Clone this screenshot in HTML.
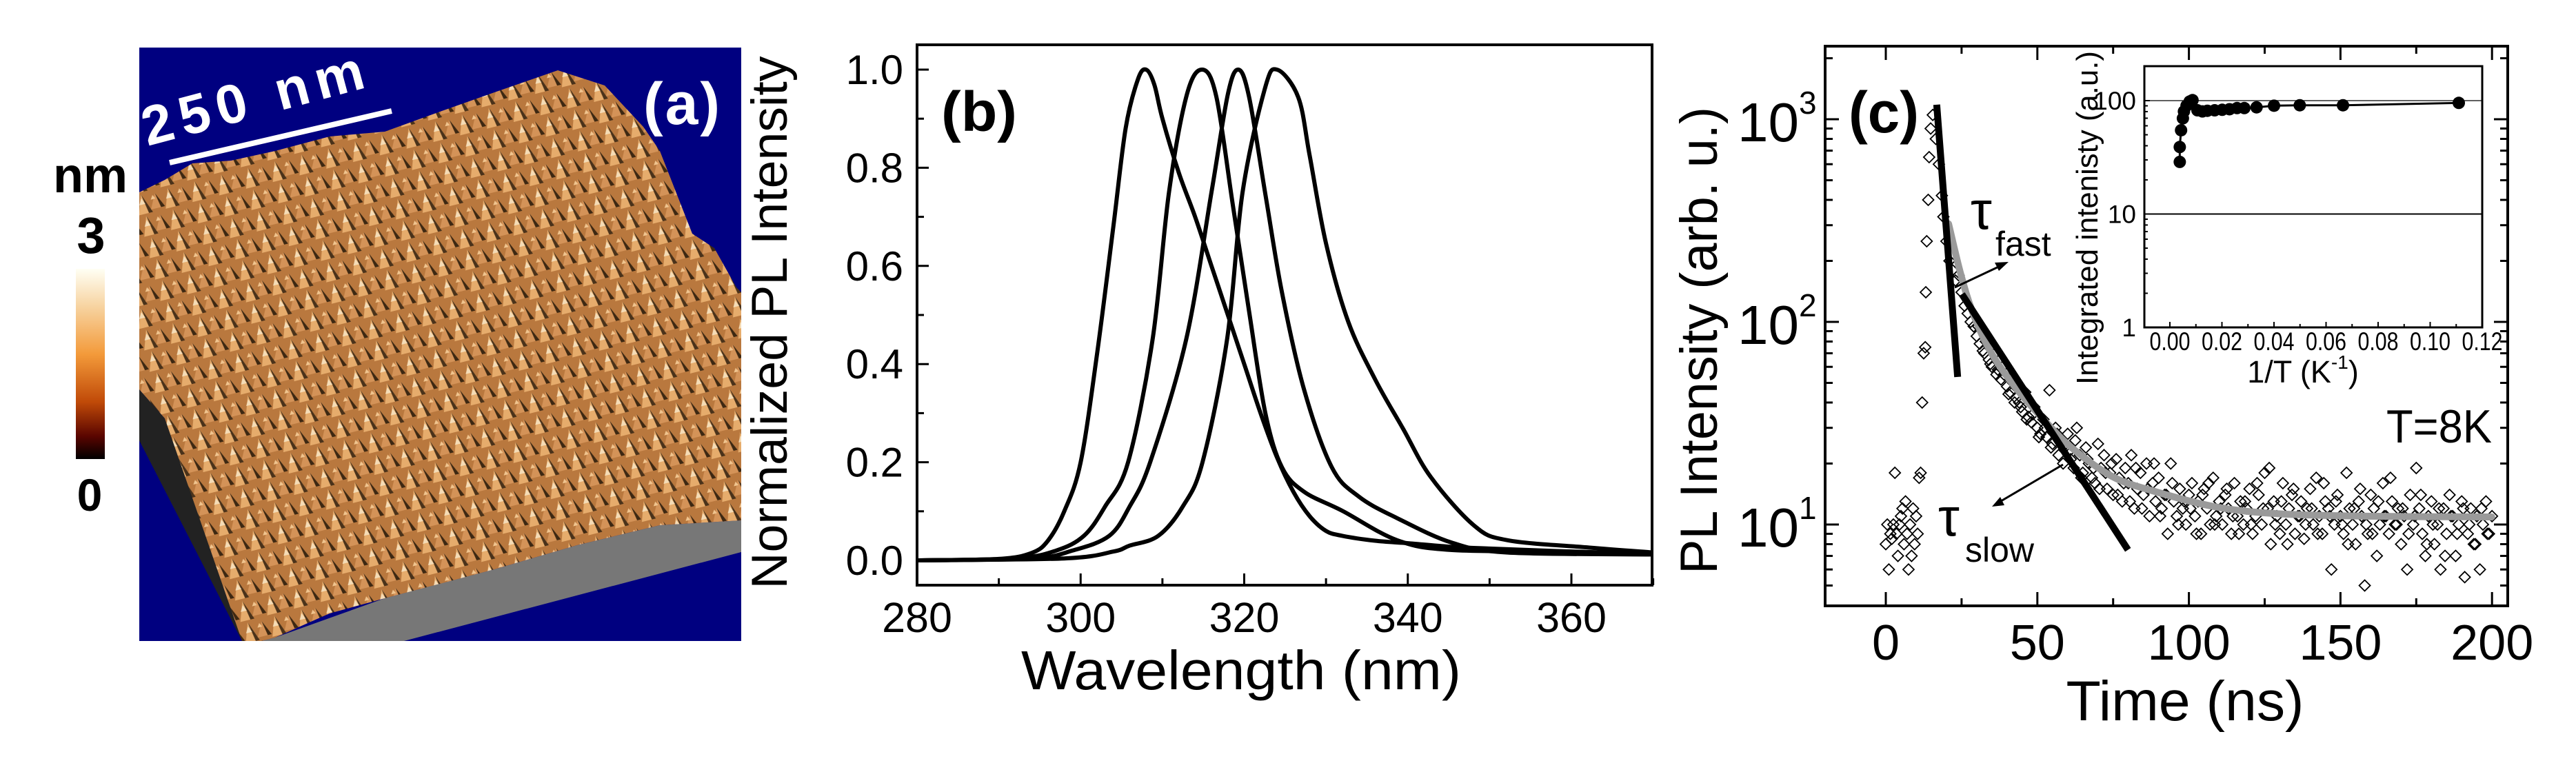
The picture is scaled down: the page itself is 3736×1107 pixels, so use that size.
<!DOCTYPE html>
<html><head><meta charset="utf-8"><style>
html,body{margin:0;padding:0;background:#fff;}
svg{display:block;}
text{font-family:"Liberation Sans",Arial,sans-serif;}
</style></head><body>
<svg id="fig" width="3736" height="1107" viewBox="0 0 3736 1107" xmlns="http://www.w3.org/2000/svg">
<defs>
<linearGradient id="cbar" x1="0" y1="0" x2="0" y2="1">
<stop offset="0" stop-color="#fffff4"/><stop offset="0.2" stop-color="#f7d3a0"/><stop offset="0.45" stop-color="#f39a3a"/><stop offset="0.7" stop-color="#c04a08"/><stop offset="0.88" stop-color="#5a0500"/><stop offset="1" stop-color="#000"/>
</linearGradient>
<pattern id="bumps" width="40" height="32" patternUnits="userSpaceOnUse" patternTransform="rotate(-14)">
<rect width="40" height="32" fill="#b9783e"/>
<polygon points="0,32 10,3 21,32" fill="#e6ac6c"/>
<polygon points="10,3 21,32 15,32" fill="#4a321a"/>
<polygon points="19,28 30,6 40,28" fill="#d49358"/>
<polygon points="30,6 40,28 34,28" fill="#3d2812"/>
<polygon points="4,18 9,9 13,18" fill="#f5dcb6"/>
<polygon points="22,14 26,8 29,14" fill="#f0c48e"/>
</pattern>
</defs>
<g id="panelA">
<rect x="202" y="69" width="873" height="861" fill="#000080"/>
<polygon points="379,930 586,930 1075,801 1075,755 957,762 837,791 717,826 558,868 399,925" fill="#777"/>
<polygon points="202,565 202,639 351,930 381,930 239,607" fill="#222"/>
<polygon points="202,279 239,261 279,237 335,233 399,219 478,198 558,191 638,162 717,134 809,102 877,124 933,184 957,219 1004,339 1036,360 1068,417 1075,424 1075,755 957,762 837,791 717,826 638,847 558,868 478,890 399,925 379,930 351,930 239,607 202,565" fill="url(#bumps)"/>
<line x1="246" y1="236" x2="568" y2="161" stroke="#fff" stroke-width="8"/>
<text x="214" y="212" transform="rotate(-15 214 212)" font-size="80" font-weight="bold" fill="#fff" textLength="330">250 nm</text>
<text x="933" y="180" font-size="86" font-weight="bold" fill="#fff" textLength="111">(a)</text>
<rect x="110" y="390" width="42" height="276" fill="url(#cbar)"/>
<text x="131" y="279" font-size="72" font-weight="bold" text-anchor="middle">nm</text>
<text x="132" y="367" font-size="74" font-weight="bold" text-anchor="middle">3</text>
<text x="130" y="741" font-size="66" font-weight="bold" text-anchor="middle">0</text>
</g>
<g id="panelB"></g>
<g id="panelC"></g>
</svg>
<script>
// ---------- Panel (b) data ----------
const specWl1 = [280,290,294,296,298,300,302,304,305.5,307,308,309,310,312,314,316,318,320,322,324,326,328,330,332,336,340,345,350,360,370];
const specI1  = [0,0.003,0.015,0.04,0.1,0.2,0.42,0.68,0.88,0.98,1.0,0.97,0.9,0.79,0.7,0.6,0.5,0.4,0.3,0.21,0.14,0.09,0.06,0.05,0.04,0.035,0.028,0.024,0.018,0.012];
const specWl2 = [280,292,297,300.4,303,305.8,308.8,310.8,313,314.9,316.6,318.6,320.6,322.6,324.6,327.3,332,338.7,345.4,360,370];
const specI2  = [0,0.004,0.02,0.05,0.11,0.2,0.45,0.75,0.95,1.0,0.944,0.725,0.507,0.299,0.19,0.14,0.101,0.041,0.021,0.018,0.012];
const specWl3 = [280,294,299,303.5,306,308.5,312.9,316,318,319.3,320.6,322.6,324.6,327.3,330.7,334,338.7,345.4,352.2,370];
const specI3  = [0,0.004,0.02,0.05,0.11,0.2,0.45,0.75,0.95,1.0,0.944,0.745,0.547,0.349,0.19,0.13,0.086,0.036,0.016,0.012];
const specWl4 = [280,298,304,306,309.5,312.5,314.9,317.9,319.8,322.5,324,326.6,328,330,332.7,336,339.4,342.8,348.1,352.2,362.2,370];
const specI4  = [0,0.004,0.018,0.03,0.05,0.11,0.2,0.45,0.75,0.96,1.0,0.944,0.825,0.646,0.487,0.369,0.269,0.17,0.071,0.041,0.026,0.016];
const bXTicks = [280,300,320,340,360];
const bYTicks = [0,0.2,0.4,0.6,0.8,1.0];
const bYTickLabels = ["0.0","0.2","0.4","0.6","0.8","1.0"];

// ---------- Panel (c) data ----------
const decayT = [0,0.5,1,1.5,2,2.5,3,3.5,4,4.5,5,5.5,6,6.5,7,7.5,8,8.5,9,9.5,10,10.5,11,11.5,12,12.5,13,13.2,13.5,14,14.3,14.8,15.5,16.5,17.5,18.5,19,20,21,22,23,24,25,26,27,28,29,30,31,32,33,34,35,36,37,38,39,40,41,42,43,44,45,46,47,48,49,50,51,52,53,54,55,56,57,58,59,60,61,62,63,64,65,66,67,68,69,70,71,72,73,74,75,76,77,78,79,80,81,82,83,84,85,86,87,88,89,90,91,92,93,94,95,96,97,98,99,100,101,102,103,104,105,106,107,108,109,110,111,112,113,114,115,116,117,118,119,120,121,122,123,124,125,126,127,128,129,130,131,132,133,134,135,136,137,138,139,140,141,142,143,144,145,146,147,148,149,150,151,152,153,154,155,156,157,158,159,160,161,162,163,164,165,166,167,168,169,170,171,172,173,174,175,176,177,178,179,180,181,182,183,184,185,186,187,188,189,190,191,192,193,194,195,196,197,198,199,200];
const decayI = [8,10,6,9,8.5,10,18,9,7,10,11,12,8,13,9,6,10,7,12,8,11,9,17,18,40,70,75,140,250,400,650,900,1050,800,600,420,330,250,200,180,160,170,140,120,110,100,95,85,78,72,80,65,60,70,58,52,55,48,45,50,42,40,36,45,34,32,38,30,28,33,27,46,25,30,22,26,24,28,21,19,30,22,18,24,20,17,16,25,19,22,15,18,14,21,17,13,19,16,22,12,15,18,14,20,11,16,13,17,12,14,9,20,13,11,15,12,10,14,16,11,13,9,15,12,10,17,11,13,10,14,12,9,16,11,13,10,12,15,9,11,14,10,18,12,8,13,11,9,16,10,12,14,9,11,13,8.5,12,15,10,17,11,9,13,12,6,10,14,11,9,18,12,10,8,13,11,5,9,14,12,7,10,16,11,9,13,10,12,8,11,6,14,10,19,12,9,7,11,13,8,10,6,12,9,14,11,7,10,13,5.5,9,12,8,11,6,10,13,9,11];
const decayT2 = [30.5,32.5,34.5,36.5,38.5,40.5,42.5,44.5,46.5,48.5,50.5,52.5,54.5,56.5,58.5,60.5,62.5,64.5,66.5,68.5,70.5,72.5,74.5,76.5,78.5,80.5,82.5,84.5,86.5,88.5,90.5,92.5,94.5,96.5,98.5,100.5,102.5,104.5,106.5,108.5,110.5,112.5,114.5,116.5,118.5,120.5,122.5,124.5,126.5,128.5,130.5,132.5,134.5,136.5,138.5,140.5,142.5,144.5,146.5,148.5,150.5,152.5,154.5,156.5,158.5,160.5,162.5,164.5,166.5,168.5,170.5,172.5,174.5,176.5,178.5,180.5,182.5,184.5,186.5,188.5,190.5,192.5,194.5,196.5,198.5];
const decayI2 = [95,70,62,55,60,44,40,38,33,35,27,30,24,28,20,23,26,17,21,19,15,18,20,14,16,13,19,12,15,20,11,14,16,10,13,12,9,14,16,10,12,15,11,9,13,10,16,12,19,10,13,8,15,11,10,12,9,16,11,13,10,8,12,15,10,9,13,11,17,10,12,9,11,14,8,10,12,7,11,9,12,10,8,12,9];
const fitT = [20.7,24.6,28.5,34.3,42.0,51.7,61.4,74.9,88.5,107.9,127.3,156.3,199.9];
const fitI = [305,175,113,72.4,49.1,33.4,23.9,17.2,14.6,12.3,11.35,11.0,10.9];
const fastT = [16.8,23.7];
const fastI = [1180,53.5];
const slowT = [25.1,79.9];
const slowI = [137,7.5];
const cXTicks = [0,50,100,150,200];
const cYDecades = [1,2,3];
// inset
const insetInvT = [0.0038,0.0038,0.0043,0.0050,0.0054,0.0064,0.0076,0.0087,0.0106,0.0125,0.0144,0.0172,0.0201,0.0229,0.0258,0.0286,0.0333,0.04,0.0499,0.0665,0.111];
const insetI = [28.8,39,54.8,69.8,80.3,90.2,98.2,101,82.2,80.3,81.4,82.2,83,84,86,86,87.3,90.2,91,91,95.5];
const insetXTicks = [0,0.02,0.04,0.06,0.08,0.10,0.12];
const insetXTickLabels = ["0.00","0.02","0.04","0.06","0.08","0.10","0.12"];
const insetYTicks = [1,10,100];

const NS = "http://www.w3.org/2000/svg";
function mk(tag, attrs, parent){
  const el = document.createElementNS(NS, tag);
  for (const k in attrs) el.setAttribute(k, attrs[k]);
  parent.appendChild(el);
  return el;
}
function smoothPath(pts){
  let d = "M" + pts[0][0].toFixed(1) + "," + pts[0][1].toFixed(1);
  for (let i=0;i<pts.length-1;i++){
    const p0 = pts[Math.max(0,i-1)], p1 = pts[i], p2 = pts[i+1], p3 = pts[Math.min(pts.length-1,i+2)];
    const c1x = p1[0] + (p2[0]-p0[0])/6, c1y = p1[1] + (p2[1]-p0[1])/6;
    const c2x = p2[0] - (p3[0]-p1[0])/6, c2y = p2[1] - (p3[1]-p1[1])/6;
    d += " C" + c1x.toFixed(1)+","+c1y.toFixed(1)+" "+c2x.toFixed(1)+","+c2y.toFixed(1)+" "+p2[0].toFixed(1)+","+p2[1].toFixed(1);
  }
  return d;
}

// ---------- Panel (b) ----------
(function(){
  const g = document.getElementById('panelB');
  const L=1330,R=2396,T=65,B=849;
  const xB = w => L + (w-280)*11.8625;
  const yB = v => 813 - v*712;
  const clip = mk('clipPath',{id:'clipB'},g);
  mk('rect',{x:L,y:T,width:R-L,height:B-T},clip);
  const series = [[specWl1,specI1],[specWl2,specI2],[specWl3,specI3],[specWl4,specI4]];
  series.forEach((s,k)=>{
    const pts = s[0].map((w,i)=>[xB(w),yB(s[1][i])]);
    const p = mk('path',{d:smoothPath(pts),fill:'none',stroke:'#000','stroke-width':6,'clip-path':'url(#clipB)','stroke-linejoin':'round'},g);
    
    
  });
  const box = mk('rect',{x:L,y:T,width:R-L,height:B-T,fill:'none',stroke:'#000','stroke-width':4},g);
  
  
  for (let w=280; w<=370; w+=10){
    const major = bXTicks.indexOf(w)>=0;
    const t = mk('line',{x1:xB(w),x2:xB(w),y1:B,y2:B-(major?17:10),stroke:'#000','stroke-width':3},g);
    
    
  }
  bXTicks.forEach(w=>{
    const t = mk('text',{x:xB(w),y:917,'font-size':61,'text-anchor':'middle'},g);
    t.textContent = String(w);
    
    
  });
  for (let v=0; v<=1.0001; v+=0.1){
    const major = Math.round(v*10)%2===0;
    const t = mk('line',{x1:L,x2:L+(major?17:10),y1:yB(v),y2:yB(v),stroke:'#000','stroke-width':3},g);
    
    
  }
  bYTicks.forEach((v,i)=>{
    const t = mk('text',{x:1310,y:yB(v)+21,'font-size':60,'text-anchor':'end'},g);
    t.textContent = bYTickLabels[i];
    
    
  });
  const xt = mk('text',{x:1800,y:1000,'font-size':80,'text-anchor':'middle',textLength:638,lengthAdjust:'spacingAndGlyphs'},g);
  xt.textContent = 'Wavelength (nm)';
  
  
  const yt = mk('text',{x:0,y:0,'font-size':73,'text-anchor':'middle',textLength:773,lengthAdjust:'spacingAndGlyphs',transform:'translate(1141,468) rotate(-90)'},g);
  yt.textContent = 'Normalized PL Intensity';
  
  
  const lb = mk('text',{x:1365,y:190,'font-size':82,'font-weight':'bold',textLength:110,lengthAdjust:'spacingAndGlyphs'},g);
  lb.textContent = '(b)';
  
  
})();

// ---------- Panel (c) ----------
(function(){
  const g = document.getElementById('panelC');
  const L=2647,R=3637,T=67,B=879;
  const xC = t => 2735 + t*4.396;
  const yC = v => 761 - (Math.log10(v)-1)*294;
  const clip = mk('clipPath',{id:'clipC'},g);
  mk('rect',{x:L,y:T,width:R-L,height:B-T},clip);
  function diamond(t,v){
    const x=xC(t), y=yC(v), s=8;
    const p = mk('polygon',{points:`${x},${y-s} ${x+s},${y} ${x},${y+s} ${x-s},${y}`,fill:'none',stroke:'#000','stroke-width':1.8,'clip-path':'url(#clipC)'},g);
    
    
  }
  decayT.forEach((t,i)=>diamond(t,decayI[i]));
  decayT2.forEach((t,i)=>diamond(t,decayI2[i]));
  const fp = mk('path',{d:smoothPath(fitT.map((t,i)=>[xC(t),yC(fitI[i])])),fill:'none',stroke:'#9a9a9a','stroke-width':10,'stroke-linecap':'round'},g);
  
  
  const fl = mk('line',{x1:xC(fastT[0]),y1:yC(fastI[0]),x2:xC(fastT[1]),y2:yC(fastI[1]),stroke:'#000','stroke-width':10},g);
  
  
  const sl = mk('line',{x1:xC(slowT[0]),y1:yC(slowI[0]),x2:xC(slowT[1]),y2:yC(slowI[1]),stroke:'#000','stroke-width':10},g);
  
  
  const a1 = mk('line',{x1:2835,y1:417,x2:2905,y2:384,stroke:'#000','stroke-width':3},g);
  
  
  const h1 = mk('polygon',{points:'2913,380 2893,381 2899,393',fill:'#000'},g);
  
  
  const a2 = mk('line',{x1:2992,y1:674,x2:2897,y2:730,stroke:'#000','stroke-width':3},g);
  
  
  const h2 = mk('polygon',{points:'2889,735 2901,721 2907,733',fill:'#000'},g);
  
  
  const box = mk('rect',{x:L,y:T,width:R-L,height:B-T,fill:'none',stroke:'#000','stroke-width':4},g);
  
  
  for (let t=0; t<=200; t+=25){
    const major = cXTicks.indexOf(t)>=0;
    const len = major?20:11;
    const tb = mk('line',{x1:xC(t),x2:xC(t),y1:B,y2:B-len,stroke:'#000','stroke-width':3},g);
    
    
    const tt = mk('line',{x1:xC(t),x2:xC(t),y1:T,y2:T+len,stroke:'#000','stroke-width':3},g);
    
    
  }
  cXTicks.forEach(t=>{
    const tx = mk('text',{x:xC(t),y:957,'font-size':72,'text-anchor':'middle'},g);
    tx.textContent = String(t);
    
    
  });
  for (let d=0; d<=3; d++){
    for (let m=1; m<=9; m++){
      const v = m*Math.pow(10,d);
      const y = yC(v);
      if (y<T+2 || y>B-2) continue;
      const len = m===1?20:11;
      const tl = mk('line',{x1:L,x2:L+len,y1:y,y2:y,stroke:'#000','stroke-width':3},g);
      
      
      const tr = mk('line',{x1:R,x2:R-len,y1:y,y2:y,stroke:'#000','stroke-width':3},g);
      
      
    }
  }
  cYDecades.forEach(d=>{
    const y = yC(Math.pow(10,d));
    const tx = mk('text',{x:2609,y:y+32,'font-size':80,'text-anchor':'end'},g);
    tx.textContent = '10';
    
    
    const sp = mk('text',{x:2609,y:y-8,'font-size':46},g);
    sp.textContent = String(d);
    
    
  });
  const xt = mk('text',{x:3169,y:1045,'font-size':82,'text-anchor':'middle',textLength:345,lengthAdjust:'spacingAndGlyphs'},g);
  xt.textContent = 'Time (ns)';
  
  
  const yt = mk('text',{x:0,y:0,'font-size':76,'text-anchor':'middle',textLength:678,lengthAdjust:'spacingAndGlyphs',transform:'translate(2490,494) rotate(-90)'},g);
  yt.textContent = 'PL Intensity (arb. u.)';
  
  
  const lc = mk('text',{x:2681,y:192,'font-size':84,'font-weight':'bold',textLength:102,lengthAdjust:'spacingAndGlyphs'},g);
  lc.textContent = '(c)';
  
  
  const tk = mk('text',{x:3461,y:642,'font-size':68,textLength:153,lengthAdjust:'spacingAndGlyphs'},g);
  tk.textContent = 'T=8K';
  
  
  const tf = mk('text',{x:2858,y:332,'font-size':78,'font-family':'"Liberation Serif",serif'},g);
  tf.textContent = 'τ';
  
  
  const tfs = mk('text',{x:2894,y:371,'font-size':50},g);
  tfs.textContent = 'fast';
  
  
  const ts = mk('text',{x:2811,y:777,'font-size':78,'font-family':'"Liberation Serif",serif'},g);
  ts.textContent = 'τ';
  
  
  const tss = mk('text',{x:2850,y:815,'font-size':50},g);
  tss.textContent = 'slow';
  
  

  // ---- inset ----
  const IL=3110, IR=3600, IT=96, IB=475;
  const xI = u => 3147 + u*3775;
  const yI = v => 475 - Math.log10(v)*164.5;
  const ibg = mk('rect',{x:IL,y:IT,width:IR-IL,height:IB-IT,fill:'#fff'},g);
  
  
  [10,100].forEach(v=>{
    const gl = mk('line',{x1:IL,x2:IR,y1:yI(v),y2:yI(v),stroke:'#000','stroke-width':v===10?2:1.2},g);
    
    
  });
  const ipts = insetInvT.map((u,i)=>[xI(u),yI(insetI[i])]).join(' ');
  const il = mk('polyline',{points:ipts,fill:'none',stroke:'#000','stroke-width':3},g);
  
  
  insetInvT.forEach((u,i)=>{
    const c = mk('ellipse',{cx:xI(u),cy:yI(insetI[i]),rx:9,ry:9,fill:'#000'},g);
    
    
  });
  const ibox = mk('rect',{x:IL,y:IT,width:IR-IL,height:IB-IT,fill:'none',stroke:'#000','stroke-width':3},g);
  
  
  for (let k=0;k<=12;k++){
    const u = k*0.01;
    const x = xI(u);
    const major = k%2===0;
    const t = mk('line',{x1:x,x2:x,y1:IB,y2:IB-(major?8:5),stroke:'#000','stroke-width':2},g);
    
    
  }
  insetXTicks.forEach((u,i)=>{
    const t = mk('text',{x:xI(u),y:508,'font-size':37,'text-anchor':'middle',textLength:59,lengthAdjust:'spacingAndGlyphs'},g);
    t.textContent = insetXTickLabels[i];
    
    
  });
  for (let d=0; d<=2; d++){
    for (let m=1;m<=9;m++){
      const v=m*Math.pow(10,d); const y=yI(v);
      if (y<IT+2) continue;
      const t = mk('line',{x1:IL,x2:IL+(m===1?8:5),y1:y,y2:y,stroke:'#000','stroke-width':2},g);
      
      
    }
  }
  insetYTicks.forEach(v=>{
    const t = mk('text',{x:3098,y:yI(v)+13,'font-size':37,'text-anchor':'end'},g);
    t.textContent = String(v);
    
    
  });
  const ixt = mk('text',{x:3340,y:555,'font-size':45,'text-anchor':'middle'},g);
  
  
  ixt.textContent = '1/T (K';
  const sup = mk('tspan',{dy:-20,'font-size':28},ixt);
  sup.textContent = '-1';
  const cl = mk('tspan',{dy:20},ixt);
  cl.textContent = ')';
  const iyt = mk('text',{x:0,y:0,'font-size':44,'text-anchor':'middle',textLength:484,lengthAdjust:'spacingAndGlyphs',transform:'translate(3042,316) rotate(-90)'},g);
  iyt.textContent = 'Integrated intenisty (a.u.)';
  
  
})();
</script>
</body></html>
